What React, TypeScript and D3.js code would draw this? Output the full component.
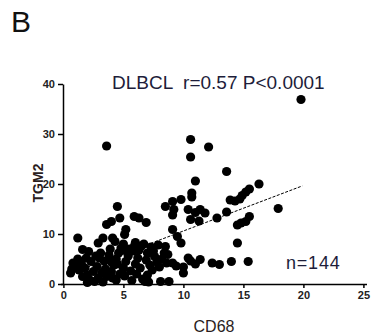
import { useEffect, useRef } from 'react';
import * as d3 from 'd3';

const WIDTH = 373;
const HEIGHT = 334;
const MARGIN = { top: 84, right: 6, bottom: 50, left: 63 };

// CD68 (x) values
const cd68 = [
  19.8, 3.6, 10.6, 10.6, 12.1, 11.0, 13.6, 16.3, 17.9, 10.7,
  10.7, 15.5, 15.2, 14.9, 14.7, 14.3, 13.9, 13.6, 12.8, 11.8,
  11.4, 11.0, 10.4, 10.6, 11.3, 15.5, 15.2, 14.8, 14.5, 14.5,
  15.4, 14.0, 13.0, 12.4, 11.4, 11.0, 10.4, 10.0, 10.0, 10.6,
  8.5, 9.1, 9.8, 9.2, 9.1, 8.5, 9.1, 9.5, 9.8, 8.7,
  9.1, 9.4, 8.1, 8.8, 4.5, 3.6, 4.0, 4.7, 5.9, 6.3,
  6.9, 5.2, 5.1, 1.2, 1.6, 2.1, 2.9, 3.3, 4.1, 4.3,
  0.7, 0.8, 1.0, 1.3, 1.5, 1.8, 2.0, 2.2, 2.0, 2.6,
  2.9, 2.5, 2.3, 2.8, 3.0, 3.2, 3.5, 3.4, 3.8, 3.6,
  4.0, 4.2, 4.4, 4.6, 4.8, 4.1, 4.7, 5.0, 5.2, 5.4,
  5.1, 5.6, 5.8, 5.9, 6.0, 6.2, 6.3, 6.5, 6.1, 6.6,
  6.8, 7.0, 7.2, 6.9, 7.0, 7.3, 7.5, 7.6, 7.8, 7.4,
  8.0, 8.2, 8.4, 7.9, 6.7, 6.0, 5.5, 5.0, 4.5, 3.9,
  3.1, 2.7, 1.9, 1.2, 0.6, 1.6, 3.3, 4.4, 5.7, 6.4,
  7.1, 5.3, 4.0, 8.6,
];

// TGM2 (y) values
const tgm2 = [
  36.9, 27.6, 28.9, 25.4, 27.4, 20.6, 22.5, 20.0, 15.1, 18.2,
  17.4, 19.0, 18.4, 17.7, 17.0, 16.6, 16.8, 14.4, 13.2, 14.2,
  14.9, 14.3, 14.9, 12.9, 12.6, 13.5, 12.5, 12.2, 11.8, 8.2,
  4.5, 4.5, 3.9, 4.2, 4.9, 4.0, 5.2, 3.4, 2.2, 4.6,
  15.5, 16.5, 16.9, 14.9, 13.8, 7.5, 10.9, 9.5, 8.2, 5.9,
  4.2, 3.6, 0.5, 0.5, 15.5, 11.9, 12.5, 13.2, 13.5, 13.2,
  12.3, 10.9, 9.9, 9.2, 6.9, 6.5, 8.2, 9.2, 9.2, 8.5,
  3.0, 4.2, 3.6, 2.8, 4.0, 3.2, 1.8, 0.8, 0.3, 0.5,
  1.2, 2.5, 4.5, 3.5, 5.2, 2.2, 3.0, 4.6, 5.8, 1.5,
  2.5, 3.8, 5.0, 6.2, 7.2, 1.2, 2.0, 3.2, 4.5, 5.6,
  1.6, 2.6, 6.6, 7.5, 4.0, 5.2, 6.8, 7.6, 2.0, 1.0,
  0.5, 1.8, 3.8, 4.8, 6.2, 7.4, 6.6, 5.5, 4.4, 2.8,
  3.4, 5.0, 6.2, 7.8, 8.0, 8.3, 7.0, 8.0, 4.0, 7.0,
  6.2, 5.6, 5.2, 5.0, 2.2, 1.5, 0.4, 0.8, 0.7, 3.2,
  0.4, 6.4, 4.4, 4.2,
];

const xTicks = [0, 5, 10, 15, 20, 25];
const yTicks = [0, 10, 20, 30, 40];

// linear fit
const fitX = [0.6, 19.9];
const fitSlope = 0.91;
const fitIntercept = 1.5;

export default function App() {
  const svgRef = useRef<SVGSVGElement>(null);
  const boundsWidth = WIDTH - MARGIN.left - MARGIN.right;
  const boundsHeight = HEIGHT - MARGIN.top - MARGIN.bottom;

  useEffect(() => {
    if (!svgRef.current) return;
    const svg = d3.select(svgRef.current);
    svg.selectAll('*').remove();

    const xScale = d3.scaleLinear().domain([0, 25]).range([0.4, boundsWidth - 3.6]);
    const yScale = d3.scaleLinear().domain([0, 40]).range([boundsHeight, 0]);

    svg.append('rect').attr('width', WIDTH).attr('height', HEIGHT).attr('fill', '#fff');

    // panel letter
    svg.append('text')
      .attr('x', 11)
      .attr('y', 32)
      .style('font-family', 'Liberation Sans, Arial, sans-serif')
      .style('font-size', '30px')
      .style('fill', '#111')
      .text('B');

    const g = svg.append('g').attr('transform', `translate(${MARGIN.left}, ${MARGIN.top})`);

    // points
    const pts = cd68.map((x, i) => ({ x, y: tgm2[i] }));
    g.selectAll('circle')
      .data(pts)
      .join('circle')
      .attr('cx', d => xScale(d.x))
      .attr('cy', d => yScale(d.y))
      .attr('r', 4.6)
      .attr('fill', '#000');

    // regression line
    g.append('line')
      .attr('x1', xScale(fitX[0]))
      .attr('y1', yScale(fitIntercept + fitSlope * fitX[0]))
      .attr('x2', xScale(fitX[1]))
      .attr('y2', yScale(fitIntercept + fitSlope * fitX[1]))
      .attr('stroke', '#000')
      .attr('stroke-width', 1)
      .attr('stroke-dasharray', '3,1.5');

    // axes
    const xAxis = g.append('g')
      .attr('transform', `translate(0, ${boundsHeight})`)
      .call(d3.axisBottom(xScale).tickValues(xTicks).tickSize(4).tickSizeOuter(0).tickPadding(3));
    const yAxis = g.append('g')
      .call(d3.axisLeft(yScale).tickValues(yTicks).tickSize(5).tickSizeOuter(0).tickPadding(3));

    [xAxis, yAxis].forEach(ax => {
      ax.select('.domain').attr('stroke', '#000').attr('stroke-width', 1.5);
      ax.selectAll('.tick line').attr('stroke', '#000').attr('stroke-width', 1.5);
      ax.selectAll('text')
        .style('font-family', 'Liberation Sans, Arial, sans-serif')
        .style('font-size', '11px')
        .style('font-weight', 'bold')
        .style('fill', '#222');
    });
    xAxis.select('.domain').attr('d', `M-2,0.5H${boundsWidth}`);

    // title
    g.append('text')
      .attr('x', 49)
      .attr('y', 5)
      .style('font-family', 'Liberation Sans, Arial, sans-serif')
      .style('font-size', '19px')
      .style('fill', '#1d1d3a')
      .attr('xml:space', 'preserve')
      .text('DLBCL  r=0.57 P<0.0001');

    // n label
    g.append('text')
      .attr('x', 223)
      .attr('y', 185)
      .style('font-family', 'Liberation Sans, Arial, sans-serif')
      .style('font-size', '18px')
      .style('letter-spacing', '0.8px')
      .style('fill', '#1d1d3a')
      .text('n=144');

    // x axis title
    svg.append('text')
      .attr('x', 214)
      .attr('y', 332)
      .attr('text-anchor', 'middle')
      .style('font-family', 'Liberation Sans, Arial, sans-serif')
      .style('font-size', '16px')
      .style('fill', '#2a1d1d')
      .text('CD68');

    // y axis title
    svg.append('text')
      .attr('transform', 'translate(43, 183) rotate(-90)')
      .attr('text-anchor', 'middle')
      .style('font-family', 'Liberation Sans, Arial, sans-serif')
      .style('font-size', '14px')
      .style('font-weight', 'bold')
      .style('fill', '#2a1d1d')
      .text('TGM2');
  }, [boundsWidth, boundsHeight]);

  return (
    <svg
      ref={svgRef}
      width={WIDTH}
      height={HEIGHT}
      style={{ position: 'absolute', top: 0, left: 0, display: 'block' }}
    />
  );
}
